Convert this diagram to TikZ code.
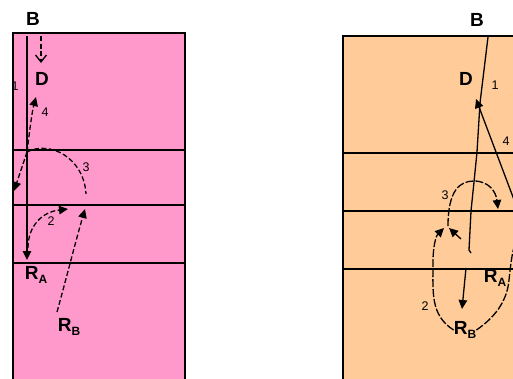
\documentclass[tikz,border=0pt]{standalone}
\usepackage{fontspec}
\setmainfont{Liberation Sans}
\usetikzlibrary{arrows.meta}
\definecolor{pinkcourt}{RGB}{255,153,204}
\definecolor{peachcourt}{RGB}{255,204,153}
\newcommand{\plsub}[2]{#1\raisebox{-4.5pt}{\fontsize{12}{12}\selectfont #2}}
\tikzset{
  court/.style={line width=1.5pt},
  zone/.style={line width=1.3pt},
  lbl/.style={inner sep=0pt, font=\fontsize{19}{19}\selectfont\bfseries},
  num/.style={inner sep=0pt, font=\fontsize{12.5}{12.5}\selectfont},
  run/.style={line width=1.3pt},
  pass/.style={line width=1.3pt, dash pattern=on 5pt off 2.5pt},
  move/.style={line width=1.3pt, dash pattern=on 8pt off 2pt},
  tip/.style={-{Triangle[length=9pt,width=8.5pt]}},
  opentip/.style={-{Straight Barb[length=7pt,width=11pt]}}
}
\begin{document}
\begin{tikzpicture}[x=1pt,y=-1pt]
\useasboundingbox (0,0) rectangle (513,378);
\clip (0,0) rectangle (513,378);

% ---------- left court ----------
\fill[pinkcourt] (13,33) rectangle (185,390);
\draw[court] (13,390) -- (13,33) -- (185,33) -- (185,390);
\foreach \yy in {150,205,263} \draw[zone] (13,\yy) -- (185,\yy);

\node[lbl] (B1) at (33,19) {B};
\node[lbl] (D1) at (42,79) {D};
\node[lbl] (RA1) at (36,275) {\plsub{R}{A}};
\node[lbl] (RB1) at (69,327) {\plsub{R}{B}};

\coordinate (b1top) at (27,36);
\coordinate (b1net) at (27,152);
\coordinate (b1rb) at (57,312);
\coordinate (b1dtop) at (41,36);

\draw[run,tip] (b1top) -- (27,260);
\draw[pass,opentip] (b1dtop) -- (41,63);
\draw[pass,tip] (b1net) .. controls (30,128) and (32,112) .. (36,97);
\draw[pass,tip] (b1net) -- (14,191);
\draw[pass] (b1net) .. controls (50,140) and (84,158) .. (86,194);
\draw[pass,tip] (28,248) .. controls (28,226) and (42,212) .. (68,209);
\draw[pass,tip] (b1rb) .. controls (68,272) and (76,240) .. (85,209);

\node[num] (n1a) at (15,86) {1};
\node[num] (n4a) at (45,112) {4};
\node[num] (n3a) at (86,167) {3};
\node[num] (n2a) at (51,221) {2};

% ---------- right court ----------
\fill[peachcourt] (343,36) rectangle (520,390);
\draw[court] (343,390) -- (343,36) -- (520,36);
\foreach \yy in {153,211,269} \draw[zone] (343,\yy) -- (520,\yy);

\node[lbl] (B2) at (477,20) {B};
\node[lbl] (D2) at (466,79) {D};
\node[lbl] (RA2) at (495,278) {\plsub{R}{A}};
\node[lbl] (RB2) at (465,330) {\plsub{R}{B}};

\coordinate (b2top) at (488,37);
\coordinate (b2far) at (516,205);

\draw[run] (b2top) -- (480,103) -- (477,152) -- (474,182) -- (471,211) -- (469,250) -- (471,253);
\draw[run,tip] (466,268) -- (462,309);
\draw[run,tip] (b2far) -- (476,99);
\draw[move,tip] (448,226) .. controls (448,190) and (460,181) .. (474,181)
                .. controls (489,181) and (496,192) .. (498,209);
\draw[move,tip] (RB2.west) .. controls (430,315) and (433,292) .. (433,262)
                .. controls (433,246) and (436,236) .. (444,228);
\draw[move] (RB2.east) .. controls (494,318) and (507,302) .. (509,280)
            .. controls (511,262) and (512,250) .. (518,235);
\draw[run,tip] (461,239) -- (449,228);

\node[num] (n1b) at (495,85) {1};
\node[num] (n4b) at (506,141) {4};
\node[num] (n3b) at (445,195) {3};
\node[num] (n2b) at (425,306) {2};
\end{tikzpicture}
\end{document}
